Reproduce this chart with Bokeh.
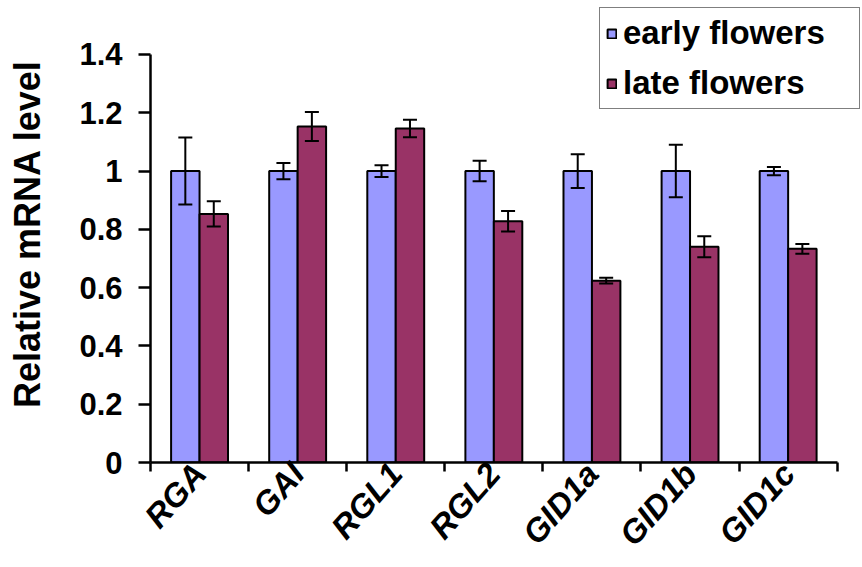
import math
import numpy as np
from bokeh.plotting import figure
from bokeh.models import (ColumnDataSource, Range1d, FixedTicker, NumeralTickFormatter,
                          Whisker, TeeHead, Legend, LegendItem)
from bokeh.embed import file_html
from bokeh.resources import INLINE

genes = ["RGA", "GAI", "RGL1", "RGL2", "GID1a", "GID1b", "GID1c"]
early = [1.0, 1.0, 1.0, 1.0, 1.0, 1.0, 1.0]
early_err = [0.115, 0.028, 0.02, 0.035, 0.058, 0.09, 0.014]
late = [0.853, 1.153, 1.146, 0.828, 0.624, 0.74, 0.733]
late_err = [0.043, 0.05, 0.03, 0.035, 0.01, 0.036, 0.017]
y_ticks = [0, 0.2, 0.4, 0.6, 0.8, 1.0, 1.2, 1.4]

FONT = "Liberation Sans"
EARLY_C = "#9999FF"
LATE_C = "#993366"
BW = 0.29

idx = np.arange(len(genes))
src_e = ColumnDataSource(dict(x=idx - BW / 2, top=early,
                              upper=[v + e for v, e in zip(early, early_err)],
                              lower=[v - e for v, e in zip(early, early_err)]))
src_l = ColumnDataSource(dict(x=idx + BW / 2, top=late,
                              upper=[v + e for v, e in zip(late, late_err)],
                              lower=[v - e for v, e in zip(late, late_err)]))

p = figure(width=862, height=567, output_backend="svg", toolbar_location=None,
           x_range=Range1d(-0.5, 6.758), y_range=Range1d(0, 1.568),
           min_border_left=150, min_border_right=0, min_border_top=5, min_border_bottom=104)
p.outline_line_color = None
p.xgrid.visible = False
p.ygrid.visible = False
p.background_fill_color = "white"
p.border_fill_color = "white"

r_e = p.vbar(x="x", top="top", width=BW, source=src_e, fill_color=EARLY_C,
             line_color="black", line_width=2)
r_l = p.vbar(x="x", top="top", width=BW, source=src_l, fill_color=LATE_C,
             line_color="black", line_width=2)

for s in (src_e, src_l):
    w = Whisker(base="x", upper="upper", lower="lower", source=s, level="annotation",
                line_color="black", line_width=2,
                upper_head=TeeHead(size=14, line_width=2, line_color="black"),
                lower_head=TeeHead(size=14, line_width=2, line_color="black"))
    p.add_layout(w)

# y axis
ya = p.yaxis[0]
ya.ticker = FixedTicker(ticks=y_ticks)
ya.formatter = NumeralTickFormatter(format="0.[0]")
ya.bounds = (0, 1.4)
ya.axis_line_width = 2.5
ya.axis_line_color = "black"
ya.major_tick_line_width = 2.5
ya.major_tick_out = 12
ya.major_tick_in = 0
ya.minor_tick_line_color = None
ya.major_label_text_font = FONT
ya.major_label_text_font_style = "bold"
ya.major_label_text_font_size = "31px"
ya.major_label_text_color = "black"
ya.major_label_standoff = 16
ya.axis_label = "Relative mRNA level"
ya.axis_label_text_font = FONT
ya.axis_label_text_font_style = "bold"
ya.axis_label_text_font_size = "36px"
ya.axis_label_text_color = "black"
ya.axis_label_standoff = 28

# x axis: labels at centers, ticks at boundaries (minor ticks)
xa = p.xaxis[0]
xa.ticker = FixedTicker(ticks=list(idx), minor_ticks=list(np.arange(len(genes) + 1) - 0.5))
xa.major_label_overrides = {int(i): g for i, g in zip(idx, genes)}
xa.bounds = (-0.5, len(genes) - 0.5)
xa.axis_line_width = 2.5
xa.axis_line_color = "black"
xa.major_tick_line_color = None
xa.major_tick_out = 0
xa.major_tick_in = 0
xa.minor_tick_line_width = 2.5
xa.minor_tick_line_color = "black"
xa.minor_tick_out = 9
xa.minor_tick_in = 0
xa.major_label_orientation = 0.85
xa.major_label_text_font = FONT
xa.major_label_text_font_style = "bold italic"
xa.major_label_text_font_size = "33px"
xa.major_label_text_color = "black"
xa.major_label_standoff = -4

legend = Legend(items=[LegendItem(label="early flowers", renderers=[r_e]),
                       LegendItem(label="late flowers", renderers=[r_l])],
                location="top_right", margin=2, padding=6, spacing=12,
                glyph_width=11, glyph_height=11, label_standoff=6, label_width=230,
                label_text_font=FONT, label_text_font_style="bold",
                label_text_font_size="33px", label_text_color="black",
                border_line_color="black", border_line_width=1.5,
                background_fill_color="white", background_fill_alpha=1)
p.add_layout(legend)

open("out.html", "w").write(file_html(p, INLINE))
